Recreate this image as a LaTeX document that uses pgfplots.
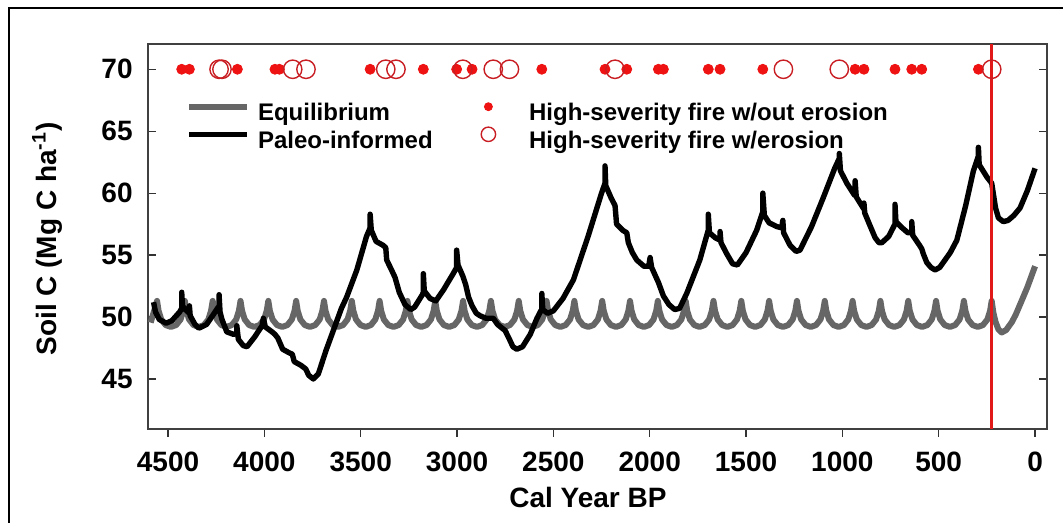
\documentclass[border=0pt]{standalone}
\usepackage{pgfplots}
\pgfplotsset{compat=1.18}
\usepackage{fontspec}
\setmainfont{Liberation Sans}
\definecolor{eqgray}{RGB}{102,102,102}
\definecolor{firered}{RGB}{238,18,18}
\definecolor{ringred}{RGB}{200,30,35}
\definecolor{vred}{RGB}{225,25,25}
\pgfplotsset{
  lineleg/.style={legend image code/.code={\draw[##1] (0pt,3.5pt) -- (29pt,3.5pt); \path (33pt,3.5pt);}},
  dotleg/.style={legend image code/.code={\draw[##1, mark size=#1] plot coordinates {(0pt,3.5pt)}; \path (-27.5pt,3.5pt) (20pt,3.5pt);}},
}
\begin{document}
\begin{tikzpicture}
\useasboundingbox (0,0) rectangle (531.5pt,261.5pt);
\draw[black, line width=1pt] (4.5pt,-2pt) -- (4.5pt,257.5pt) -- (540pt,257.5pt);
\begin{axis}[
  at={(74pt,47pt)}, anchor=south west,
  scale only axis, width=449.5pt, height=192.5pt,
  x dir=reverse,
  xmin=-62, xmax=4604, ymin=40.96, ymax=72.04,
  xtick={0,500,...,4500}, ytick={45,50,...,70},
  xtick pos=left, ytick pos=both, yticklabel pos=left,
  tick align=inside, major tick length=4pt,
  tick style={black!80, line width=0.6pt},
  xtick style={yshift=-4pt},
  axis line style={black!75, line width=0.9pt},
  /pgf/number format/1000 sep={},
  /pgf/number format/assume math mode=true,
  ticklabel style={font=\fontsize{14}{16}\selectfont\bfseries},
  xticklabel style={inner sep=0pt, anchor=north, yshift=-11.5pt},
  yticklabel style={inner sep=0pt, anchor=east, xshift=-7.5pt},
  xlabel={Cal Year BP},
  ylabel={Soil C (Mg C ha\textsuperscript{-1})},
  label style={font=\fontsize{14}{16}\selectfont\bfseries},
  xlabel style={at={(axis description cs:0.4894,-0.2026)}, anchor=base},
  ylabel style={at={(axis description cs:-0.1023,0.4935)}, anchor=base},
  legend columns=2, transpose legend, legend cell align=left,
  legend style={draw=none, fill=none, inner sep=0pt, outer sep=0pt,
    at={(axis description cs:0.0423,0.8475)}, anchor=north west,
    font=\fontsize{12}{14}\selectfont\bfseries,
    row sep=1.6pt, nodes={inner sep=0pt}},
]
% Equilibrium
\addplot[color=eqgray, line width=3pt, line join=round, lineleg]
coordinates {
(4590,49.55)
(4557,51.3) (4549,50.5) (4535,49.8) (4512,49.35) (4485,49.2) (4458,49.35) (4435,49.8) (4421,50.5)
(4412.6,51.3) (4404.6,50.5) (4390.6,49.8) (4367.6,49.35) (4340.6,49.2) (4313.6,49.35) (4290.6,49.8) (4276.6,50.5)
(4268.2,51.3) (4260.2,50.5) (4246.2,49.8) (4223.2,49.35) (4196.2,49.2) (4169.2,49.35) (4146.2,49.8) (4132.2,50.5)
(4123.8,51.3) (4115.8,50.5) (4101.8,49.8) (4078.8,49.35) (4051.8,49.2) (4024.8,49.35) (4001.8,49.8) (3987.8,50.5)
(3979.4,51.3) (3971.4,50.5) (3957.4,49.8) (3934.4,49.35) (3907.4,49.2) (3880.4,49.35) (3857.4,49.8) (3843.4,50.5)
(3835,51.3) (3827,50.5) (3813,49.8) (3790,49.35) (3763,49.2) (3736,49.35) (3713,49.8) (3699,50.5)
(3690.6,51.3) (3682.6,50.5) (3668.6,49.8) (3645.6,49.35) (3618.6,49.2) (3591.6,49.35) (3568.6,49.8) (3554.6,50.5)
(3546.2,51.3) (3538.2,50.5) (3524.2,49.8) (3501.2,49.35) (3474.2,49.2) (3447.2,49.35) (3424.2,49.8) (3410.2,50.5)
(3401.8,51.3) (3393.8,50.5) (3379.8,49.8) (3356.8,49.35) (3329.8,49.2) (3302.8,49.35) (3279.8,49.8) (3265.8,50.5)
(3257.4,51.3) (3249.4,50.5) (3235.4,49.8) (3212.4,49.35) (3185.4,49.2) (3158.4,49.35) (3135.4,49.8) (3121.4,50.5)
(3113,51.3) (3105,50.5) (3091,49.8) (3068,49.35) (3041,49.2) (3014,49.35) (2991,49.8) (2977,50.5)
(2968.6,51.3) (2960.6,50.5) (2946.6,49.8) (2923.6,49.35) (2896.6,49.2) (2869.6,49.35) (2846.6,49.8) (2832.6,50.5)
(2824.2,51.3) (2816.2,50.5) (2802.2,49.8) (2779.2,49.35) (2752.2,49.2) (2725.2,49.35) (2702.2,49.8) (2688.2,50.5)
(2679.8,51.3) (2671.8,50.5) (2657.8,49.8) (2634.8,49.35) (2607.8,49.2) (2580.8,49.35) (2557.8,49.8) (2543.8,50.5)
(2535.4,51.3) (2527.4,50.5) (2513.4,49.8) (2490.4,49.35) (2463.4,49.2) (2436.4,49.35) (2413.4,49.8) (2399.4,50.5)
(2391,51.3) (2383,50.5) (2369,49.8) (2346,49.35) (2319,49.2) (2292,49.35) (2269,49.8) (2255,50.5)
(2246.6,51.3) (2238.6,50.5) (2224.6,49.8) (2201.6,49.35) (2174.6,49.2) (2147.6,49.35) (2124.6,49.8) (2110.6,50.5)
(2102.2,51.3) (2094.2,50.5) (2080.2,49.8) (2057.2,49.35) (2030.2,49.2) (2003.2,49.35) (1980.2,49.8) (1966.2,50.5)
(1957.8,51.3) (1949.8,50.5) (1935.8,49.8) (1912.8,49.35) (1885.8,49.2) (1858.8,49.35) (1835.8,49.8) (1821.8,50.5)
(1813.4,51.3) (1805.4,50.5) (1791.4,49.8) (1768.4,49.35) (1741.4,49.2) (1714.4,49.35) (1691.4,49.8) (1677.4,50.5)
(1669,51.3) (1661,50.5) (1647,49.8) (1624,49.35) (1597,49.2) (1570,49.35) (1547,49.8) (1533,50.5)
(1524.6,51.3) (1516.6,50.5) (1502.6,49.8) (1479.6,49.35) (1452.6,49.2) (1425.6,49.35) (1402.6,49.8) (1388.6,50.5)
(1380.2,51.3) (1372.2,50.5) (1358.2,49.8) (1335.2,49.35) (1308.2,49.2) (1281.2,49.35) (1258.2,49.8) (1244.2,50.5)
(1235.8,51.3) (1227.8,50.5) (1213.8,49.8) (1190.8,49.35) (1163.8,49.2) (1136.8,49.35) (1113.8,49.8) (1099.8,50.5)
(1091.4,51.3) (1083.4,50.5) (1069.4,49.8) (1046.4,49.35) (1019.4,49.2) (992.4,49.35) (969.4,49.8) (955.4,50.5)
(947,51.3) (939,50.5) (925,49.8) (902,49.35) (875,49.2) (848,49.35) (825,49.8) (811,50.5)
(802.6,51.3) (794.6,50.5) (780.6,49.8) (757.6,49.35) (730.6,49.2) (703.6,49.35) (680.6,49.8) (666.6,50.5)
(658.2,51.3) (650.2,50.5) (636.2,49.8) (613.2,49.35) (586.2,49.2) (559.2,49.35) (536.2,49.8) (522.2,50.5)
(513.8,51.3) (505.8,50.5) (491.8,49.8) (468.8,49.35) (441.8,49.2) (414.8,49.35) (391.8,49.8) (377.8,50.5)
(369.4,51.3) (361.4,50.5) (347.4,49.8) (324.4,49.35) (297.4,49.2) (270.4,49.35) (247.4,49.8) (233.4,50.5)
(225,51.3) (217,50.4) (205,49.6) (190,49.0) (173,48.75) (150,48.95) (120,49.6) (100,50.2) (78,51.0) (40,52.4) (0,54.1)
};
\addlegendentry{Equilibrium}
% Paleo-informed
\addplot[color=black, line width=2.7pt, line join=round, lineleg]
coordinates {
(4575,51.2) (4565,50.4) (4545,49.8) (4510,49.5) (4480,49.7) (4440,50.4)
(4429,50.7) (4429,52.0) (4425,50.9) (4410,50.6) (4389,50.3) (4389,50.9) (4385,50.1)
(4360,49.4) (4340,49.1) (4300,49.4) (4256,50.4) (4235,50.9) (4235,51.8) (4230,50.4)
(4220,49.8) (4195,48.8) (4160,48.6) (4143,48.7) (4143,49.3) (4135,48.2) (4110,47.7)
(4090,47.6) (4050,48.4) (4012,49.3) (4005,49.9) (3995,49.2) (3960,48.8)
(3945,48.6) (3930,48.3) (3905,47.4) (3870,47.1) (3855,47.0) (3845,46.4) (3810,46.1)
(3785,45.8) (3770,45.3) (3746,45.0) (3720,45.4) (3680,47.3) (3600,50.7) (3573,51.6) (3520,53.8)
(3470,56.5) (3451,57.2) (3451,58.3) (3445,57.0) (3420,56.1) (3385,55.8) (3370,55.6)
(3365,54.6) (3340,53.8) (3322,53.2) (3300,52.0) (3270,51.0) (3240,50.6) (3220,50.8)
(3180,51.8) (3175,52.0) (3175,53.5) (3170,52.1) (3140,51.5) (3110,51.3) (3070,52.2)
(3020,53.5) (3002,54.0) (3002,55.4) (2995,54.2) (2970,53.3) (2955,52.6) (2940,51.6)
(2922,50.9) (2900,50.3) (2880,50.1) (2850,49.9) (2812,49.9) (2790,49.4) (2750,48.9)
(2728,48.2) (2710,47.6) (2690,47.4) (2660,47.6) (2620,48.6) (2585,49.9) (2565,50.5)
(2560,50.6) (2560,51.9) (2555,50.6) (2530,50.3) (2500,50.5) (2450,51.5) (2396,53.0)
(2320,56.5) (2250,60.0) (2232,60.8) (2232,62.2) (2228,60.6) (2200,59.6) (2180,59.0)
(2172,57.5) (2140,57.0) (2119,56.8) (2111,56.0) (2090,55.2) (2067,54.6) (2030,54.1)
(2005,54.1) (1998,54.8) (1990,54.0) (1955,52.8) (1929,51.7) (1900,51.0) (1870,50.6)
(1845,50.7) (1808,51.9) (1740,54.6) (1700,56.8) (1696,57.0) (1696,58.3) (1690,56.8)
(1660,56.4) (1635,56.2) (1635,56.9) (1630,56.0) (1600,55.1) (1570,54.3) (1545,54.2)
(1500,55.2) (1445,57.0) (1413,58.5) (1413,60.0) (1405,58.2) (1380,57.6) (1340,57.3)
(1315,57.2) (1309,57.8) (1305,56.8) (1272,55.8) (1240,55.3) (1220,55.4) (1160,57.3)
(1100,59.6) (1040,62.0) (1016,62.8) (1016,63.2) (1010,61.8) (1000,61.5) (977,60.8)
(940,59.9) (934,59.8) (934,61.0) (928,59.7) (888,58.7) (888,59.2) (884,58.4)
(860,57.5) (830,56.4) (810,56.0) (795,56.0) (760,56.5) (727,57.5) (727,59.1)
(722,57.7) (690,57.2) (660,56.8) (640,56.8) (640,57.7) (635,56.6) (600,55.8)
(588,55.5) (580,55.1) (562,54.4) (540,54.0) (519,53.8) (495,54.0) (440,55.2)
(406,56.2) (360,59.0) (320,61.8) (294,63.0) (294,63.7) (290,62.3) (270,61.8)
(250,61.3) (225,60.8) (215,59.8) (205,58.8) (190,58.0) (165,57.7) (140,57.8)
(110,58.2) (78,58.8) (40,60.2) (0,62.0)
};
\addlegendentry{Paleo-informed}
% fires without erosion
\addplot[only marks, mark=*, mark size=2.5pt, color=firered, dotleg=2pt]
coordinates {
(4429,70) (4389,70) (4140,70) (3945,70) (3922,70) (3451,70) (3175,70) (3002,70)
(2922,70) (2560,70) (2232,70) (2119,70) (1955,70) (1929,70) (1696,70) (1635,70)
(1413,70) (934,70) (888,70) (727,70) (640,70) (588,70) (294,70)
};
\addlegendentry{High-severity fire w/out erosion}
% fires with erosion
\addplot[only marks, mark=o, mark size=4.6pt, color=ringred, line width=0.7pt, dotleg=3.6pt]
coordinates {
(4235,70) (4220,70) (3853,70) (3784,70) (3370,70) (3317,70) (2970,70) (2812,70)
(2728,70) (2180,70) (1306,70) (1016,70) (225,70)
};
\addlegendentry{High-severity fire w/erosion}
% red line
\addplot[color=vred, line width=1.5pt, forget plot] coordinates {(225,40.96) (225,72.04)};
\end{axis}
\end{tikzpicture}
\end{document}
